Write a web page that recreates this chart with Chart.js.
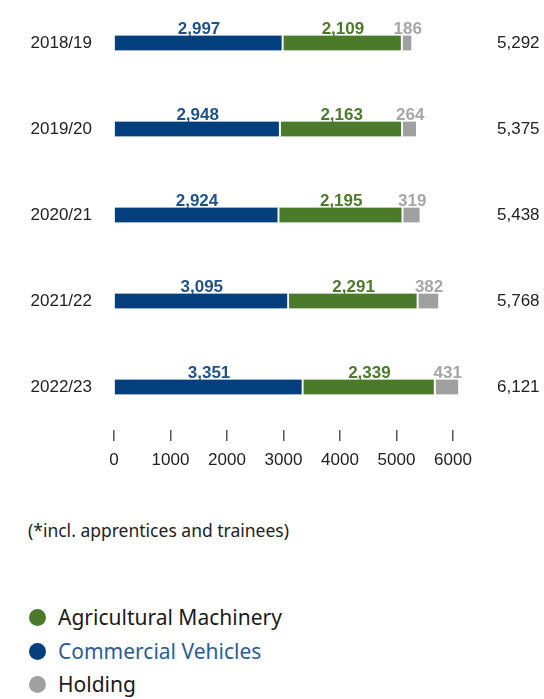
<!DOCTYPE html>
<html>
<head>
<meta charset="utf-8">
<script src="https://cdn.jsdelivr.net/npm/chart.js@4"></script>
<style>
  html, body { margin: 0; padding: 0; background: #fff; }
  body { width: 544px; height: 699px; position: relative; overflow: hidden; font-family: "Noto Sans", sans-serif; }
  #wrap { position: absolute; left: 0; top: 0; width: 544px; height: 472px; }
  .note { position: absolute; left: 28px; top: 518px; font-size: 17.5px; color: #222; }
  .leg { position: absolute; left: 29px; font-size: 21px; color: #1a1a1a; display: flex; align-items: center; }
  .leg i { width: 17px; height: 17px; border-radius: 50%; display: inline-block; margin-right: 12px; }
</style>
</head>
<body>
<div id="wrap"><canvas id="chart"></canvas></div>
<div class="note">(*incl. apprentices and trainees)</div>
<div class="leg" style="top:603px"><i style="background:#4b7a2b"></i>Agricultural Machinery</div>
<div class="leg" style="top:637px;color:#2b5d94"><i style="background:#023f7c"></i>Commercial Vehicles</div>
<div class="leg" style="top:670px"><i style="background:#a0a0a0"></i>Holding</div>
<script>
const years = ['2018/19', '2019/20', '2020/21', '2021/22', '2022/23'];
const commercial = [2997, 2948, 2924, 3095, 3351];
const agricultural = [2109, 2163, 2195, 2291, 2339];
const holding = [186, 264, 319, 382, 431];
const totals = [5292, 5375, 5438, 5768, 6121];
const xTickValues = [0, 1000, 2000, 3000, 4000, 5000, 6000];

const fmt = v => v.toLocaleString('en-US');
const tickFont = { family: '"Liberation Sans", Arial, sans-serif', size: 17 };

// value labels above each segment
const valueLabels = {
  id: 'valueLabels',
  afterDatasetsDraw(chart) {
    const ctx = chart.ctx;
    ctx.save();
    ctx.font = 'bold 17px "Liberation Sans", Arial, sans-serif';
    ctx.textAlign = 'center';
    ctx.textBaseline = 'alphabetic';
    chart.data.datasets.forEach((ds, di) => {
      chart.getDatasetMeta(di).data.forEach((el, i) => {
        const p = el.getProps(['x', 'y', 'base'], true);
        ctx.fillStyle = ds.labelColor;
        ctx.fillText(fmt(ds.data[i]), (p.x + p.base) / 2, p.y - 9);
      });
    });
    ctx.restore();
  }
};

// side axes: fixed widths, no extra top/bottom padding from tick padding
const fixWidth = w => s => { s.width = w; s.paddingTop = 0; s.paddingBottom = 0; };

new Chart(document.getElementById('chart'), {
  type: 'bar',
  data: {
    labels: years,
    datasets: [
      { label: 'Commercial Vehicles', data: commercial, backgroundColor: '#023f7c', labelColor: '#1f5289' },
      { label: 'Agricultural Machinery', data: agricultural, backgroundColor: '#4b7a2b', labelColor: '#4b7a2b' },
      { label: 'Holding', data: holding, backgroundColor: '#a0a0a0', labelColor: '#a6a6a6' }
    ].map(d => Object.assign(d, {
      barThickness: 15, borderColor: '#ffffff', borderWidth: { right: 2, left: 0, top: 0, bottom: 0 },
      borderSkipped: false, clip: false
    }))
  },
  options: {
    indexAxis: 'y',
    responsive: true,
    maintainAspectRatio: false,
    animation: false,
    layout: { padding: { top: -6, bottom: 0 } },
    plugins: { legend: { display: false }, tooltip: { enabled: false } },
    scales: {
      x: {
        stacked: true, min: 0, max: 6000,
        afterBuildTicks: s => { s.ticks = xTickValues.map(v => ({ value: v })); },
        afterFit: s => { s.height = 42; },
        border: { display: false },
        grid: { drawOnChartArea: false, drawTicks: true, tickLength: 11, color: '#555', lineWidth: 1.5 },
        ticks: { padding: 9, color: '#222', font: tickFont, callback: v => String(v), maxRotation: 0 }
      },
      y: {
        stacked: true,
        afterFit: fixWidth(114),
        border: { display: false },
        grid: { display: false, drawTicks: false },
        ticks: { padding: 22, color: '#222', font: tickFont }
      },
      y1: {
        type: 'category', position: 'right', offset: true,
        labels: totals.map(fmt),
        afterFit: fixWidth(91),
        border: { display: false },
        grid: { display: false, drawTicks: false },
        ticks: { padding: 44, color: '#222', font: tickFont }
      }
    }
  },
  plugins: [valueLabels]
});
</script>
</body>
</html>
